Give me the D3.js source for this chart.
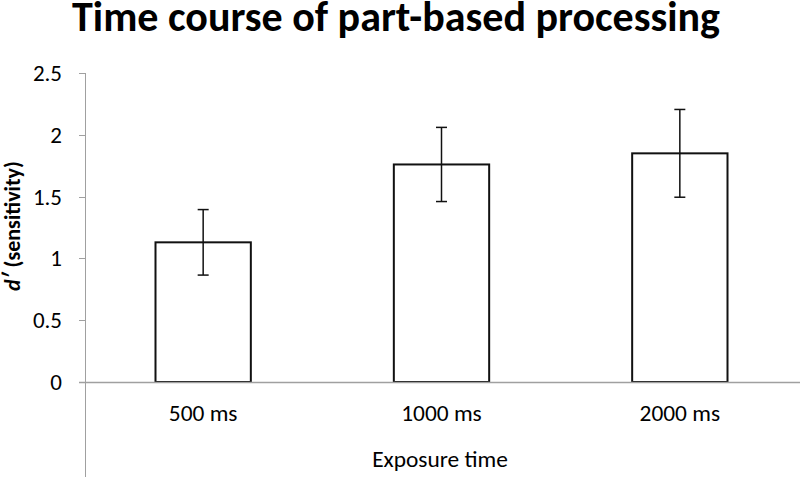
<!DOCTYPE html>
<html><head><meta charset="utf-8">
<script src="https://cdn.jsdelivr.net/npm/d3@7"></script>
<style>body{margin:0;background:#fff}svg{display:block}</style>
</head><body>
<svg id="c" width="800" height="477"></svg>
<script>
const categories = ["500 ms", "1000 ms", "2000 ms"];
const values = [1.13, 1.76, 1.85];
const errors = [0.265, 0.30, 0.355];
const yTicks = [0, 0.5, 1, 1.5, 2, 2.5];
const yTickLabels = ["0", "0.5", "1", "1.5", "2", "2.5"];

(function () {
const svg = d3.select("#c");
const font = "Carlito, Lato, 'Open Sans', 'Liberation Sans', sans-serif";
const pLeft = 84, pRight = 799, pTop = 73, pBottom = 382;

const x = d3.scaleBand().domain(categories).range([pLeft, pRight]).paddingInner(0.6).paddingOuter(0.3);
const y = d3.scaleLinear().domain([0, 2.5]).range([pBottom, pTop]);

// title
svg.append("text").attr("x", 396).attr("y", 31).attr("text-anchor", "middle")
  .attr("font-family", font).attr("font-weight", "bold").attr("font-size", 42)
  .text("Time course of part-based processing");

// y axis line (extends down)
svg.append("line").attr("x1", 85.5).attr("x2", 85.5).attr("y1", pTop).attr("y2", 477)
  .attr("stroke", "#a0a0a0").attr("stroke-width", 1);

// y ticks
const yt = svg.append("g");
yTicks.forEach((t, i) => {
  yt.append("line").attr("x1", 79).attr("x2", 85).attr("y1", Math.round(y(t)) + 0.5).attr("y2", Math.round(y(t)) + 0.5)
    .attr("stroke", "#a0a0a0");
  yt.append("text").attr("x", 62).attr("y", y(t)).attr("dy", "0.35em").attr("text-anchor", "end")
    .attr("font-family", font).attr("font-size", 23).attr("fill", "#000").text(yTickLabels[i]);
});

// y label
const yl = svg.append("text").attr("transform", "translate(20,226) rotate(-90)").attr("text-anchor", "middle")
  .attr("font-family", font).attr("font-weight", "bold").attr("font-size", 22);
yl.append("tspan").attr("font-style", "italic").text("d\u2032");
yl.append("tspan").text(" (sensitivity)");

// bars
svg.append("g").selectAll("rect").data(values).join("rect")
  .attr("x", (d, i) => x(categories[i]))
  .attr("y", d => y(d))
  .attr("width", x.bandwidth())
  .attr("height", d => y(0) - y(d))
  .attr("fill", "#fff").attr("stroke", "#111").attr("stroke-width", 2);

// bottom axis over bars
svg.append("line").attr("x1", 79).attr("x2", 800).attr("y1", pBottom + 0.5).attr("y2", pBottom + 0.5)
  .attr("stroke", "#a0a0a0").attr("stroke-width", 1.5);

// error bars
const eb = svg.append("g").attr("stroke", "#111").attr("stroke-width", 1.5);
values.forEach((v, i) => {
  const cx = x(categories[i]) + x.bandwidth() / 2;
  eb.append("line").attr("x1", cx).attr("x2", cx).attr("y1", y(v + errors[i])).attr("y2", y(v - errors[i]));
  eb.append("line").attr("x1", cx - 5.5).attr("x2", cx + 5.5).attr("y1", y(v + errors[i])).attr("y2", y(v + errors[i]));
  eb.append("line").attr("x1", cx - 5.5).attr("x2", cx + 5.5).attr("y1", y(v - errors[i])).attr("y2", y(v - errors[i]));
});

// x labels
categories.forEach(c => {
  svg.append("text").attr("x", x(c) + x.bandwidth() / 2).attr("y", 421).attr("text-anchor", "middle")
    .attr("font-family", font).attr("font-size", 23.4).text(c);
});
svg.append("text").attr("x", 440).attr("y", 467).attr("text-anchor", "middle")
  .attr("font-family", font).attr("font-size", 23.4).text("Exposure time");
})();
</script>
</body></html>
